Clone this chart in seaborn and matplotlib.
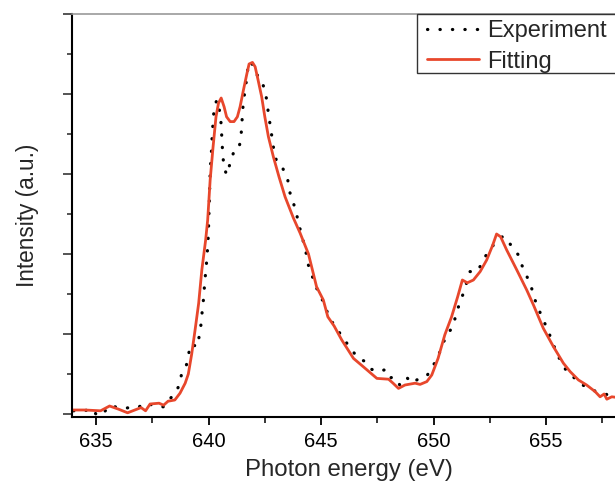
import matplotlib
matplotlib.use("Agg")
import matplotlib.pyplot as plt
import seaborn as sns
import numpy as np
from matplotlib.ticker import MultipleLocator, NullFormatter
from matplotlib.patches import Rectangle

# ---- data ----
exp_energy = [634.0, 634.14, 634.47, 634.8, 635.06, 635.33, 635.62, 635.92, 636.26, 636.58,
              636.88, 637.22, 637.5, 637.8, 638.0, 638.2, 638.48, 638.7, 638.8, 639.0,
              639.1, 639.22, 639.5, 639.6, 639.68, 639.72, 639.78, 639.82, 639.87, 639.92,
              639.96, 639.99, 640.07, 640.1, 640.14, 640.16, 640.2, 640.24, 640.36, 640.48,
              640.54, 640.57, 640.6, 640.63, 640.69, 640.8, 640.96, 641.1, 641.34, 641.43,
              641.48, 641.5, 641.55, 641.62, 641.7, 641.77, 641.9, 642.07, 642.33, 642.5,
              642.6, 642.66, 642.75, 642.9, 643.03, 643.3, 643.52, 643.6, 643.77, 643.92,
              644.04, 644.17, 644.32, 644.4, 644.78, 645.03, 645.4, 645.92, 646.17, 646.4,
              646.6, 646.96, 647.2, 647.55, 647.8, 648.0, 648.24, 648.5, 648.8, 649.03,
              649.32, 649.7, 650.17, 650.36, 650.56, 650.84, 651.1, 651.33, 651.62, 651.92,
              652.14, 652.36, 652.66, 652.88, 653.1, 653.36, 653.77, 653.92, 654.14, 654.36,
              654.51, 654.7, 654.91, 655.1, 655.3, 655.48, 655.95, 656.21, 656.44, 656.78,
              657.03, 657.77, 658.0, 658.5]
exp_intensity = [0.008, 0.008, 0.0075, 0.014, -0.005, 0.003, 0.021, 0.017, 0.014, 0.017,
                 0.017, 0.028, 0.022, 0.018, 0.018, 0.035, 0.0475, 0.0725, 0.100, 0.118,
                 0.1475, 0.175, 0.168, 0.200, 0.230, 0.260, 0.290, 0.3225, 0.354, 0.385,
                 0.418, 0.4475, 0.603, 0.635, 0.667, 0.700, 0.728, 0.760, 0.785, 0.760,
                 0.740, 0.710, 0.680, 0.647, 0.617, 0.598, 0.627, 0.652, 0.660, 0.690,
                 0.720, 0.750, 0.780, 0.810, 0.840, 0.877, 0.880, 0.853, 0.837, 0.810,
                 0.780, 0.750, 0.718, 0.660, 0.630, 0.614, 0.585, 0.556, 0.528, 0.497,
                 0.468, 0.440, 0.408, 0.378, 0.317, 0.289, 0.2375, 0.195, 0.175, 0.158,
                 0.142, 0.131, 0.1125, 0.106, 0.110, 0.089, 0.093, 0.0725, 0.092, 0.077,
                 0.0875, 0.095, 0.139, 0.168, 0.195, 0.217, 0.267, 0.303, 0.356, 0.356,
                 0.375, 0.400, 0.4225, 0.435, 0.445, 0.428, 0.3975, 0.3725, 0.345, 0.314,
                 0.285, 0.258, 0.231, 0.206, 0.178, 0.150, 0.103, 0.093, 0.078, 0.068,
                 0.060, 0.0475, 0.043, 0.040]

fit_energy = [633.95, 634.5, 635.2, 635.6, 636.0, 636.4, 637.0, 637.2, 637.4, 637.8,
              638.0, 638.2, 638.5, 638.73, 638.96, 639.1, 639.25, 639.4, 639.56, 639.7,
              639.87, 639.96, 640.07, 640.2, 640.33, 640.44, 640.56, 640.69, 640.8, 640.96,
              641.13, 641.28, 641.4, 641.55, 641.7, 641.8, 641.95, 642.07, 642.2, 642.36,
              642.5, 642.66, 642.88, 643.13, 643.4, 643.77, 644.07, 644.44, 644.8, 645.1,
              645.3, 645.58, 645.92, 646.44, 646.88, 647.48, 648.0, 648.2, 648.44, 648.73,
              649.18, 649.4, 649.7, 649.92, 650.2, 650.5, 650.8, 651.07, 651.28, 651.5,
              651.77, 652.07, 652.36, 652.63, 652.8, 652.98, 653.25, 653.7, 654.14, 654.44,
              654.66, 654.88, 655.33, 655.77, 656.07, 656.44, 656.8, 657.18, 657.4, 657.58,
              657.7, 657.92, 658.07, 658.5]
fit_intensity = [0.010, 0.010, 0.008, 0.020, 0.012, 0.003, 0.016, 0.008, 0.025, 0.027,
                 0.022, 0.032, 0.035, 0.052, 0.077, 0.100, 0.150, 0.210, 0.277, 0.360,
                 0.435, 0.485, 0.585, 0.668, 0.743, 0.777, 0.790, 0.768, 0.743, 0.731,
                 0.731, 0.743, 0.768, 0.810, 0.850, 0.875, 0.879, 0.868, 0.835, 0.793,
                 0.743, 0.693, 0.643, 0.593, 0.543, 0.490, 0.452, 0.400, 0.318, 0.285,
                 0.243, 0.220, 0.185, 0.139, 0.118, 0.089, 0.087, 0.077, 0.064, 0.0725,
                 0.077, 0.074, 0.081, 0.0975, 0.139, 0.198, 0.243, 0.293, 0.335, 0.328,
                 0.335, 0.356, 0.385, 0.4225, 0.450, 0.443, 0.410, 0.360, 0.310, 0.2725,
                 0.243, 0.214, 0.168, 0.127, 0.106, 0.085, 0.0725, 0.056, 0.043, 0.050,
                 0.037, 0.043, 0.042, 0.040]

x_major_ticks = [635, 640, 645, 650, 655]
legend_labels = ["Experiment", "Fitting"]

# ---- style ----
sns.set_style("ticks")
plt.rcParams["font.family"] = ["Liberation Sans", "DejaVu Sans"]

W, H = 615, 483
fig = plt.figure(figsize=(W / 100, H / 100), dpi=100)
ax_l, ax_r, ax_t, ax_b = 72, 625, 14, 417
ax = fig.add_axes([ax_l / W, 1 - ax_b / H, (ax_r - ax_l) / W, (ax_b - ax_t) / H])

red = "#E8472C"

sns.lineplot(x=exp_energy, y=exp_intensity, ax=ax, estimator=None, sort=False,
             color="black", linewidth=2.3, linestyle=(0, (0.1, 3.8)),
             dash_capstyle="round", label=legend_labels[0])
sns.lineplot(x=fit_energy, y=fit_intensity, ax=ax, estimator=None, sort=False,
             color=red, linewidth=2.0, label=legend_labels[1])

ax.set_xlim(633.93, 633.93 + (ax_r - ax_l) / 22.5)
ax.set_ylim(-0.0075, 1.0)

ax.set_xticks(x_major_ticks)
ax.xaxis.set_minor_locator(MultipleLocator(2.5))
ax.yaxis.set_major_locator(MultipleLocator(0.2))
ax.yaxis.set_minor_locator(MultipleLocator(0.1))
ax.yaxis.set_major_formatter(NullFormatter())

ax.tick_params(axis="x", which="major", direction="out", length=5.8, width=1.3,
               labelsize=14.5, colors="black", pad=5)
ax.tick_params(axis="x", which="minor", direction="out", length=4.3, width=1.3)
ax.tick_params(axis="y", which="major", direction="out", length=6.5, width=1.1)
ax.tick_params(axis="y", which="minor", direction="out", length=3.6, width=1.1)

for s in ["left", "bottom"]:
    ax.spines[s].set_linewidth(1.5)
    ax.spines[s].set_color("black")
ax.spines["top"].set_color("#9a9a9a")
ax.spines["top"].set_linewidth(1.2)
ax.spines["right"].set_color("black")

ax.set_xlabel("Photon energy (eV)", fontsize=17.3, labelpad=6)
ax.set_ylabel("Intensity (a.u.)", fontsize=16.3, labelpad=14)

# legend frame drawn as a separate box, legend entries placed inside
frame = Rectangle((417 / W, 1 - 73 / H), (640 - 417) / W, (73 - 14) / H,
                  transform=fig.transFigure, fill=True, facecolor="white",
                  edgecolor="#333333", linewidth=1.0, zorder=8, clip_on=False)
ax.add_patch(frame)
leg = ax.legend(loc="upper left", bbox_to_anchor=(427 / W, 1 - 20.5 / H),
                bbox_transform=fig.transFigure, borderaxespad=0, borderpad=0,
                fontsize=17, frameon=False, handlelength=2.2, handletextpad=0.34,
                labelspacing=0.34)
leg.set_zorder(10)

fig.savefig("out.png", dpi=100)
